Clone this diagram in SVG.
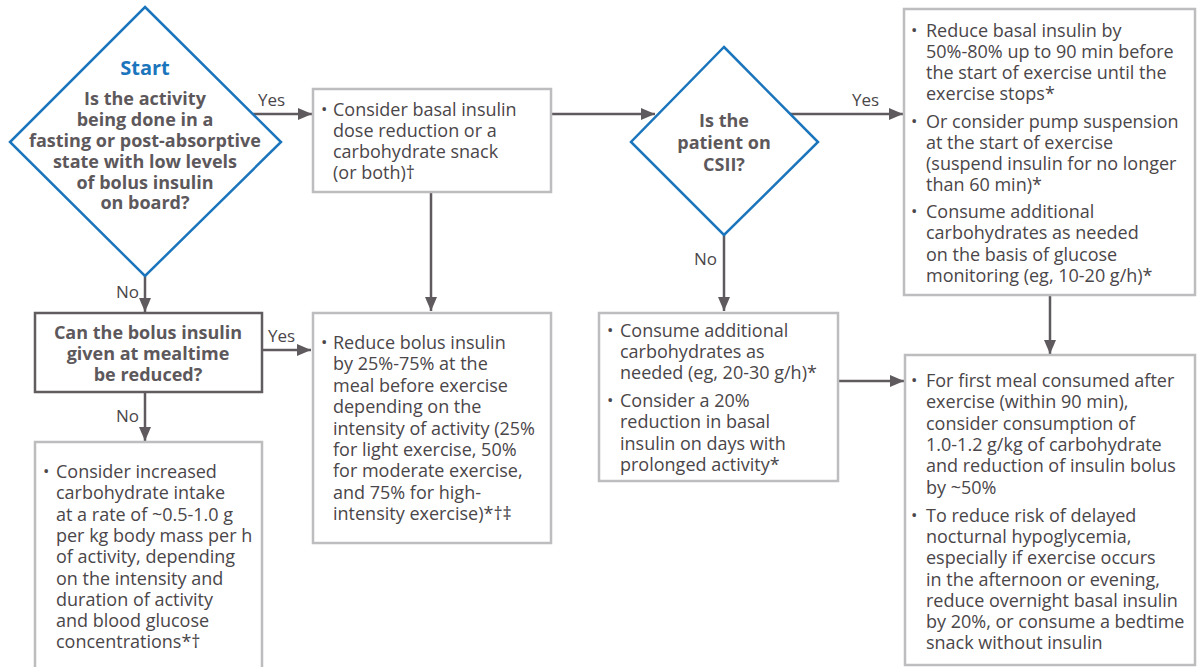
<svg xmlns="http://www.w3.org/2000/svg" width="1201" height="667" viewBox="0 0 1201 667">
<style>
.t{font-family:"Open Sans","Liberation Sans",sans-serif;font-size:18px;fill:#4a4649}
.b{font-family:"Open Sans","Liberation Sans",sans-serif;font-size:17px;fill:#4a4649}
.q{font-family:"Open Sans","Liberation Sans",sans-serif;font-size:18px;font-weight:bold;fill:#5d585b}
.lbl{font-family:"Open Sans","Liberation Sans",sans-serif;font-size:17px;fill:#4a4649}
.box{fill:#fff;stroke:#bdbcbf;stroke-width:2.5}
.dia{fill:#fff;stroke:#1b75bc;stroke-width:2.5}
.con{fill:none;stroke:#5f5a5e;stroke-width:2.5;marker-end:url(#ah)}
</style>
<defs>
<marker id="ah" markerUnits="userSpaceOnUse" markerWidth="14" markerHeight="12" refX="14" refY="6" orient="auto" viewBox="0 0 14 12">
<path d="M0,0 L14,6 L0,12 z" fill="#5f5a5e"/>
</marker>
</defs>
<rect width="1201" height="667" fill="#fff"/>
<g id="connectors">
<path class="con" d="M253,114 H312"/>
<path class="con" d="M551,114 H655"/>
<path class="con" d="M790,114 H903"/>
<path class="con" d="M431,192 V311"/>
<path class="con" d="M724,235 V311"/>
<path class="con" d="M838,381 H904"/>
<path class="con" d="M1050,295 V354"/>
<path class="con" d="M145,276 V312"/>
<path class="con" d="M262,350 H311"/>
<path class="con" d="M145,392 V441"/>
<text class="lbl" x="258" y="106">Yes</text>
<text class="lbl" x="852" y="106">Yes</text>
<text class="lbl" x="694" y="265">No</text>
<text class="lbl" x="116" y="298">No</text>
<text class="lbl" x="268" y="342">Yes</text>
<text class="lbl" x="116" y="422">No</text>
</g>
<g id="start">
<polygon class="dia" points="145,7 281,142 145,276 10,142"/>
<text x="145" y="75" text-anchor="middle" style="font-family:'Open Sans','Liberation Sans',sans-serif;font-size:20px;font-weight:bold;fill:#1b75bc">Start</text>
<text class="q" text-anchor="middle"><tspan x="145" y="105">Is the activity</tspan><tspan x="145" y="126">being done in a</tspan><tspan x="145" y="147">fasting or post-absorptive</tspan><tspan x="145" y="168">state with low levels</tspan><tspan x="145" y="189">of bolus insulin</tspan><tspan x="145" y="209">on board?</tspan></text>
</g>
<g id="basal">
<rect class="box" x="313" y="89" width="238" height="103"/>
<text class="b" x="321" y="115">•</text>
<text class="t"><tspan x="333" y="116">Consider basal insulin</tspan><tspan x="333" y="137">dose reduction or a</tspan><tspan x="333" y="158">carbohydrate snack</tspan><tspan x="333" y="179">(or both)†</tspan></text>
</g>
<g id="csii">
<polygon class="dia" points="724,47 818,142 724,235 631,142"/>
<text class="q" text-anchor="middle"><tspan x="724" y="127">Is the</tspan><tspan x="724" y="149">patient on</tspan><tspan x="724" y="171">CSII?</tspan></text>
</g>
<g id="pump">
<rect class="box" x="904" y="9" width="291" height="286"/>
<text class="b" x="911" y="36">•</text>
<text class="b" x="911" y="127">•</text>
<text class="b" x="911" y="217">•</text>
<text class="t"><tspan x="926" y="37">Reduce basal insulin by</tspan><tspan x="926" y="58">50%-80% up to 90 min before</tspan><tspan x="926" y="79">the start of exercise until the</tspan><tspan x="926" y="100">exercise stops*</tspan><tspan x="926" y="128">Or consider pump suspension</tspan><tspan x="926" y="149">at the start of exercise</tspan><tspan x="926" y="170">(suspend insulin for no longer</tspan><tspan x="926" y="191">than 60 min)*</tspan><tspan x="926" y="218">Consume additional</tspan><tspan x="926" y="239">carbohydrates as needed</tspan><tspan x="926" y="261">on the basis of glucose</tspan><tspan x="926" y="282">monitoring (eg, 10-20 g/h)*</tspan></text>
</g>
<g id="mealtime">
<rect x="35" y="313" width="227" height="79" fill="#fff" stroke="#615c60" stroke-width="2.5"/>
<text class="q" text-anchor="middle"><tspan x="148" y="339">Can the bolus insulin</tspan><tspan x="148" y="360">given at mealtime</tspan><tspan x="148" y="381">be reduced?</tspan></text>
</g>
<g id="bolus">
<rect class="box" x="313" y="313" width="238" height="230"/>
<text class="b" x="321" y="348">•</text>
<text class="t"><tspan x="333" y="349">Reduce bolus insulin</tspan><tspan x="333" y="370">by 25%-75% at the</tspan><tspan x="333" y="392">meal before exercise</tspan><tspan x="333" y="413">depending on the</tspan><tspan x="333" y="435">intensity of activity (25%</tspan><tspan x="333" y="456">for light exercise, 50%</tspan><tspan x="333" y="477">for moderate exercise,</tspan><tspan x="333" y="499">and 75% for high-</tspan><tspan x="333" y="520">intensity exercise)*†‡</tspan></text>
</g>
<g id="carbs">
<rect class="box" x="599" y="313" width="239" height="168"/>
<text class="b" x="607" y="336">•</text>
<text class="b" x="607" y="406">•</text>
<text class="t"><tspan x="620" y="337">Consume additional</tspan><tspan x="620" y="358">carbohydrates as</tspan><tspan x="620" y="379">needed (eg, 20-30 g/h)*</tspan><tspan x="620" y="407">Consider a 20%</tspan><tspan x="620" y="428">reduction in basal</tspan><tspan x="620" y="450">insulin on days with</tspan><tspan x="620" y="471">prolonged activity*</tspan></text>
</g>
<g id="after">
<rect class="box" x="905" y="355" width="290" height="310"/>
<text class="b" x="911" y="386">•</text>
<text class="b" x="911" y="521">•</text>
<text class="t"><tspan x="926" y="387">For first meal consumed after</tspan><tspan x="926" y="408">exercise (within 90 min),</tspan><tspan x="926" y="430">consider consumption of</tspan><tspan x="926" y="451">1.0-1.2 g/kg of carbohydrate</tspan><tspan x="926" y="472">and reduction of insulin bolus</tspan><tspan x="926" y="494">by ~50%</tspan><tspan x="926" y="522">To reduce risk of delayed</tspan><tspan x="926" y="543">nocturnal hypoglycemia,</tspan><tspan x="926" y="564">especially if exercise occurs</tspan><tspan x="926" y="586">in the afternoon or evening,</tspan><tspan x="926" y="607">reduce overnight basal insulin</tspan><tspan x="926" y="628">by 20%, or consume a bedtime</tspan><tspan x="926" y="649">snack without insulin</tspan></text>
</g>
<g id="intake">
<path d="M35,668 V442 H262 V668" fill="#fff" stroke="#bdbcbf" stroke-width="2.5"/>
<text class="b" x="43" y="477">•</text>
<text class="t"><tspan x="56" y="478">Consider increased</tspan><tspan x="56" y="499">carbohydrate intake</tspan><tspan x="56" y="521">at a rate of ~0.5-1.0 g</tspan><tspan x="56" y="542">per kg body mass per h</tspan><tspan x="56" y="563">of activity, depending</tspan><tspan x="56" y="585">on the intensity and</tspan><tspan x="56" y="606">duration of activity</tspan><tspan x="56" y="627">and blood glucose</tspan><tspan x="56" y="648">concentrations*†</tspan></text>
</g>
</svg>
